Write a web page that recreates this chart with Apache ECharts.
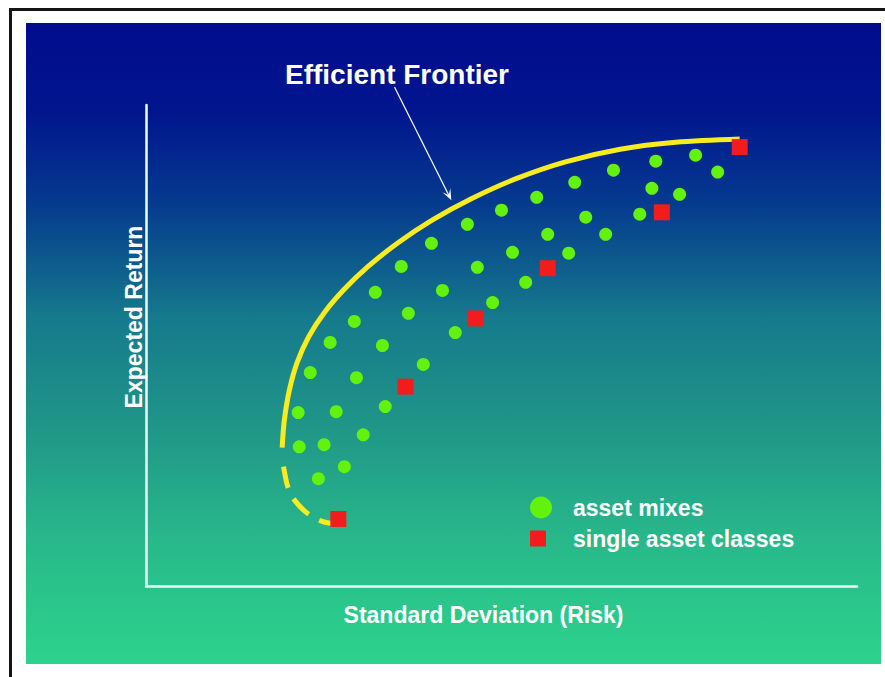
<!DOCTYPE html>
<html>
<head>
<meta charset="utf-8">
<script src="https://cdn.jsdelivr.net/npm/echarts@6/dist/echarts.min.js"></script>
<style>
  html, body { margin: 0; padding: 0; background: #fff; width: 885px; height: 677px; overflow: hidden; }
  #frame { position: absolute; left: 9px; top: 8px; width: 900px; height: 700px; border-left: 3px solid #151515; border-top: 3px solid #151515; }
  #chart {
    position: absolute; left: 26px; top: 23px; width: 855px; height: 641px;
    background: linear-gradient(to bottom, #010c8d 0%, #01168e 14%, #053a8e 28%, #157a8c 46%, #1f9488 62%, #28b98a 81%, #2cd38c 100%);
  }
</style>
</head>
<body>
<div id="frame"></div>
<div id="chart"></div>
<script>
// asset mixes: [risk, return]
const assetMixes = [
  [14.34, 14.13], [15.46, 14.33], [16.08, 13.77], [14.23, 13.23], [15.01, 13.03],
  [13.15, 13.83], [12.06, 13.43], [10.99, 12.93], [10.00, 12.50], [9.04, 12.03],
  [8.03, 11.40], [7.18, 10.63], [6.45, 9.77], [5.86, 8.80], [5.18, 8.10],
  [4.62, 7.10], [4.28, 5.77], [4.31, 4.63], [4.85, 3.57], [5.58, 3.97],
  [5.01, 4.70], [5.35, 5.80], [6.11, 5.03], [6.73, 5.97], [5.92, 6.93],
  [7.80, 7.37], [6.65, 8.00], [8.70, 8.43], [7.38, 9.07], [8.34, 9.83],
  [9.75, 9.43], [10.68, 10.10], [9.32, 10.60], [10.31, 11.10], [11.89, 11.07],
  [11.30, 11.70], [12.93, 11.70], [12.37, 12.27], [13.89, 12.37]
]
// single asset classes
const singleAssets = [
  [16.70, 14.60], [14.51, 12.43], [11.30, 10.57], [9.27, 8.90], [7.30, 6.63], [5.41, 2.23]
]
// efficient frontier (solid) and the lower, inefficient branch (dashed)
const frontierUpper = [
  [3.83, 4.60], [3.89, 5.50], [4.03, 6.50], [4.25, 7.43], [4.58, 8.30], [5.02, 9.10],
  [5.57, 9.86], [6.24, 10.62], [7.08, 11.41], [8.06, 12.18], [9.18, 12.90],
  [10.41, 13.55], [11.80, 14.11], [13.34, 14.53], [14.90, 14.76], [16.70, 14.87]
]
const frontierLower = [
  [3.83, 4.37], [3.89, 3.83], [4.03, 3.17], [4.31, 2.67], [4.65, 2.33], [5.01, 2.13], [5.44, 2.07]
]
// label arrow: from title down to the curve
const arrowFrom = [6.99, 16.6]
const arrowTo = [8.59, 12.83]

const FONT = 'Liberation Sans, Arial, sans-serif'
const chart = echarts.init(document.getElementById('chart'), null, { renderer: 'svg' })

chart.setOption({
  backgroundColor: 'transparent',
  animation: false,
  textStyle: { fontFamily: FONT },
  title: {
    text: 'Efficient Frontier', left: 254, top: 32,
    textStyle: { color: '#fff', fontSize: 28, fontWeight: 'bold', fontFamily: FONT }
  },
  legend: {
    orient: 'vertical', left: 499, top: 468,
    itemWidth: 22, itemHeight: 22, itemGap: 8,
    textStyle: { color: '#fff', fontSize: 23, fontWeight: 'bold', fontFamily: FONT, padding: [0, 0, 4, 16] },
    data: [
      { name: 'asset mixes', icon: 'circle' },
      { name: 'single asset classes', icon: 'path://M0,0M22,22M0,3h16v16h-16z' }
    ]
  },
  grid: { left: 120, top: 82, width: 711, height: 481 },
  xAxis: {
    type: 'value', min: 0, max: 20,
    name: 'Standard Deviation (Risk)', nameLocation: 'middle', nameGap: 17,
    nameTextStyle: { color: '#fff', fontSize: 23, fontWeight: 'bold', fontFamily: FONT, padding: [0, 36, 0, 0] },
    axisLine: { show: true, lineStyle: { color: '#e9fff9', width: 2.5 } },
    axisTick: { show: false }, axisLabel: { show: false }, splitLine: { show: false }
  },
  yAxis: {
    type: 'value', min: 0, max: 16,
    name: 'Expected Return', nameLocation: 'middle', nameGap: 1,
    nameTextStyle: { color: '#fff', fontSize: 23, fontWeight: 'bold', fontFamily: FONT, padding: [0, 0, 0, 57] },
    axisLine: { show: true, lineStyle: { color: '#e9fff9', width: 2.5 } },
    axisTick: { show: false }, axisLabel: { show: false }, splitLine: { show: false }
  },
  series: [
    {
      name: 'asset mixes', type: 'scatter', data: assetMixes,
      symbol: 'circle', symbolSize: 13, z: 2,
      itemStyle: { color: '#62f20e', opacity: 1 }
    },
    {
      name: 'frontier', type: 'line', data: frontierUpper, smooth: 0.33,
      showSymbol: false, z: 3, silent: true,
      lineStyle: { color: '#f8ec1e', width: 5 }
    },
    {
      name: 'frontier-lower', type: 'line', data: frontierLower, smooth: 0.4,
      showSymbol: false, z: 3, silent: true,
      lineStyle: { color: '#f8ec1e', width: 5, type: [22, 12], dashOffset: 22 }
    },
    {
      name: 'single asset classes', type: 'scatter', data: singleAssets,
      symbol: 'rect', symbolSize: 16, z: 4,
      itemStyle: { color: '#f21c1c', opacity: 1 }
    }
  ]
})

// arrow annotation placed through the axes
const p0 = chart.convertToPixel({ gridIndex: 0 }, arrowFrom)
const p1 = chart.convertToPixel({ gridIndex: 0 }, arrowTo)
const ang = Math.atan2(p1[1] - p0[1], p1[0] - p0[0])
const wing = (a, len) => [p1[0] - len * Math.cos(ang + a), p1[1] - len * Math.sin(ang + a)]
const notch = [p1[0] - 6 * Math.cos(ang), p1[1] - 6 * Math.sin(ang)]
chart.setOption({
  graphic: [
    { type: 'line', shape: { x1: p0[0], y1: p0[1], x2: notch[0], y2: notch[1] }, style: { stroke: '#f2f6ff', lineWidth: 1.3 }, z: 10 },
    { type: 'polygon', shape: { points: [p1, wing(0.38, 12), notch, wing(-0.38, 12)] }, style: { fill: '#f2f6ff' }, z: 10 }
  ]
})
</script>
</body>
</html>
